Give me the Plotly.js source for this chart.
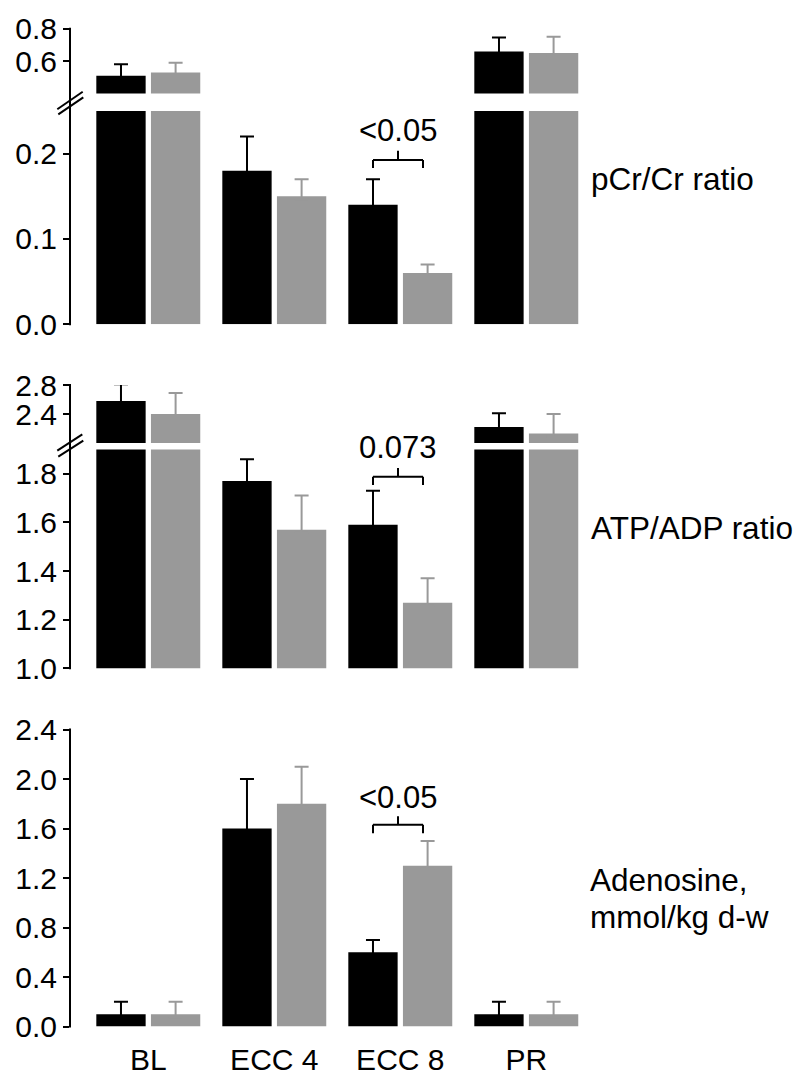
<!DOCTYPE html>
<html>
<head>
<meta charset="utf-8">
<script src="https://cdn.plot.ly/plotly-3.0.1.min.js"></script>
<style>html,body{margin:0;padding:0;background:#fff;}#chart{width:800px;height:1084px;}</style>
</head>
<body>
<div id="chart"></div>
<script>
// ---------- data ----------
const categories = ['BL', 'ECC 4', 'ECC 8', 'PR'];

const pcrBlack    = [0.51, 0.18, 0.14, 0.66];
const pcrBlackErr = [0.07, 0.04, 0.03, 0.085];
const pcrGray     = [0.53, 0.15, 0.06, 0.65];
const pcrGrayErr  = [0.06, 0.02, 0.01, 0.10];

const atpBlack    = [2.58, 1.77, 1.59, 2.22];
const atpBlackErr = [0.23, 0.09, 0.14, 0.19];
const atpGray     = [2.40, 1.57, 1.27, 2.13];
const atpGrayErr  = [0.29, 0.14, 0.10, 0.27];

const adoBlack    = [0.1, 1.6, 0.6, 0.1];
const adoBlackErr = [0.1, 0.4, 0.1, 0.1];
const adoGray     = [0.1, 1.8, 1.3, 0.1];
const adoGrayErr  = [0.1, 0.3, 0.2, 0.1];

const panelLabels = ['pCr/Cr ratio', 'ATP/ADP ratio', 'Adenosine,', 'mmol/kg d-w'];
const pLabels = ['&lt;0.05', '0.073', '&lt;0.05'];

// ---------- helpers ----------
const W = 800, H = 1084;
const fx = p => p / W;
const fy = p => 1 - p / H;
const BLACK = '#000000', GRAY = '#999999';
const FONT = 'Liberation Sans, Arial, Helvetica, sans-serif';

// axis geometry: [top px, bottom px, range]
const axes = {
  y:  {top: 729.5, bottom: 1026.5, range: [0, 2.4],   ticks: [0, 0.4, 0.8, 1.2, 1.6, 2.0, 2.4]},
  y2: {top: 449.4, bottom: 668.3,  range: [1.0, 1.9], ticks: [1.0, 1.2, 1.4, 1.6, 1.8]},
  y3: {top: 385,   bottom: 443,    range: [2.0, 2.8], ticks: [2.4, 2.8]},
  y4: {top: 111,   bottom: 324.3,  range: [0, 0.25],  ticks: [0, 0.1, 0.2]},
  y5: {top: 28.7,  bottom: 93.5,   range: [0.4, 0.8], ticks: [0.6, 0.8]}
};

function barTrace(vals, errs, color, yaxis) {
  const a = axes[yaxis];
  // hide the lower cap of the one-sided error bar inside the bar (3 px below the top)
  const hide = 3 * (a.range[1] - a.range[0]) / (a.bottom - a.top);
  return {
    type: 'bar', x: categories, y: vals, yaxis: yaxis, xaxis: 'x',
    marker: {color: color, line: {width: 0}},
    error_y: {type: 'data', symmetric: false, array: errs,
              arrayminus: categories.map(() => hide),
              color: color, thickness: 2, width: 7},
    hoverinfo: 'skip'
  };
}

const traces = [
  barTrace(adoBlack, adoBlackErr, BLACK, 'y'),
  barTrace(adoGray, adoGrayErr, GRAY, 'y'),
  barTrace(atpBlack, atpBlackErr, BLACK, 'y2'),
  barTrace(atpGray, atpGrayErr, GRAY, 'y2'),
  barTrace(atpBlack, atpBlackErr, BLACK, 'y3'),
  barTrace(atpGray, atpGrayErr, GRAY, 'y3'),
  barTrace(pcrBlack, pcrBlackErr, BLACK, 'y4'),
  barTrace(pcrGray, pcrGrayErr, GRAY, 'y4'),
  barTrace(pcrBlack, pcrBlackErr, BLACK, 'y5'),
  barTrace(pcrGray, pcrGrayErr, GRAY, 'y5')
];

function yax(key) {
  const a = axes[key];
  return {
    domain: [fy(a.bottom), fy(a.top)], range: a.range, anchor: 'x',
    tickvals: a.ticks, tickformat: '.1f',
    ticks: 'outside', ticklen: 6, tickwidth: 2, tickcolor: BLACK,
    showline: false, showgrid: false, zeroline: false,
    tickfont: {family: FONT, size: 30, color: BLACK},
    automargin: false, fixedrange: true
  };
}

const layout = {
  width: W, height: H,
  margin: {l: 0, r: 0, t: 0, b: 0, pad: 0},
  paper_bgcolor: '#ffffff', plot_bgcolor: 'rgba(0,0,0,0)',
  showlegend: false,
  barmode: 'group', bargap: 0.133, bargroupgap: 0.097,
  xaxis: {
    domain: [fx(70), fx(590)], range: [-0.6214, 3.5057], anchor: 'y',
    type: 'category', ticks: '', showline: false, showgrid: false, zeroline: false,
    ticklabelstandoff: 12,
    tickfont: {family: FONT, size: 30, color: BLACK}, automargin: false, fixedrange: true
  },
  yaxis:  yax('y'),
  yaxis2: yax('y2'),
  yaxis3: yax('y3'),
  yaxis4: yax('y4'),
  yaxis5: yax('y5'),
  shapes: [],
  annotations: []
};

function pline(x0, y0, x1, y1) {
  layout.shapes.push({type: 'line', xref: 'paper', yref: 'paper',
    x0: fx(x0), y0: fy(y0), x1: fx(x1), y1: fy(y1),
    line: {color: BLACK, width: 2}});
}
// axis lines (continuous through the breaks)
pline(70, 27.7, 70, 325.3);
pline(70, 384, 70, 669.3);
pline(70, 728.5, 70, 1027.5);
// break marks
pline(57.3, 109.3, 82.7, 91.7);
pline(58.3, 114.3, 83.3, 97.3);
pline(57.3, 450.7, 82.3, 434.3);
pline(58.3, 456.7, 83.3, 440.7);

// significance brackets
function bracket(yh, ydown, yup) {
  pline(373, yh, 423, yh);
  pline(373, yh, 373, ydown);
  pline(423, yh, 423, ydown);
  pline(398, yh, 398, yup);
}
bracket(160, 168, 150.7);
bracket(476.7, 485, 468);
bracket(824.7, 833.3, 816.3);

function ann(text, x, y, xanchor, size) {
  layout.annotations.push({text: text, xref: 'paper', yref: 'paper',
    x: fx(x), y: fy(y), xanchor: xanchor, yanchor: 'middle', showarrow: false,
    font: {family: FONT, size: size, color: BLACK}});
}
ann(pLabels[0], 398, 131, 'center', 31);
ann(pLabels[1], 398, 448, 'center', 31);
ann(pLabels[2], 398, 797, 'center', 31);
ann(panelLabels[0], 589, 179, 'left', 31.5);
ann(panelLabels[1], 589, 528, 'left', 31.5);
ann(panelLabels[2], 588, 880, 'left', 31.5);
ann(panelLabels[3], 588, 917, 'left', 31.5);

Plotly.newPlot('chart', traces, layout, {displayModeBar: false, staticPlot: true});
</script>
</body>
</html>
